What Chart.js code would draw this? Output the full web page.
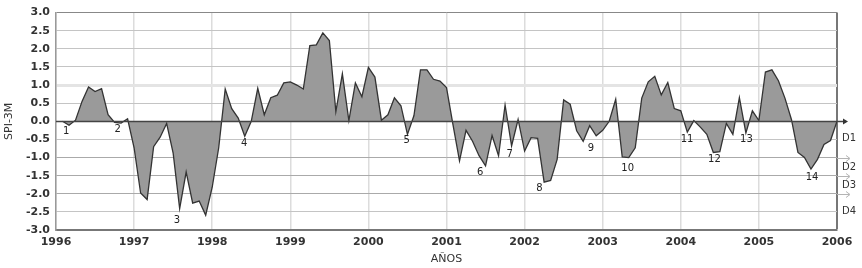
<!DOCTYPE html>
<html><head><meta charset="utf-8">
<script src="https://cdn.jsdelivr.net/npm/chart.js@4/dist/chart.umd.min.js"></script>
<style>html,body{margin:0;padding:0;background:#fff;}#wrap{width:862px;height:268px;}</style>
</head><body><div id="wrap"><canvas id="c" width="862" height="268"></canvas></div>
<script>
const startYear = 1996;
const spi3m = [
  0.00, -0.11, 0.03, 0.55, 0.95, 0.82, 0.90, 0.18, -0.03, -0.05, 0.07, -0.73,
  -1.98, -2.16, -0.70, -0.44, -0.06, -0.88, -2.41, -1.40, -2.26, -2.20, -2.59, -1.82,
  -0.73, 0.89, 0.35, 0.09, -0.41, 0.00, 0.91, 0.18, 0.65, 0.72, 1.06, 1.09,
  1.00, 0.89, 2.09, 2.11, 2.44, 2.23, 0.27, 1.31, 0.02, 1.06, 0.68, 1.49,
  1.22, 0.03, 0.18, 0.65, 0.43, -0.36, 0.16, 1.42, 1.42, 1.16, 1.11, 0.93,
  -0.10, -1.09, -0.25, -0.55, -0.95, -1.23, -0.39, -0.95, 0.45, -0.68, 0.05, -0.82,
  -0.45, -0.47, -1.68, -1.63, -1.05, 0.59, 0.47, -0.26, -0.55, -0.12, -0.40, -0.25,
  0.00, 0.61, -0.98, -1.00, -0.73, 0.64, 1.09, 1.24, 0.73, 1.07, 0.35, 0.29,
  -0.30, 0.02, -0.16, -0.36, -0.86, -0.84, -0.06, -0.36, 0.65, -0.32, 0.29, 0.02,
  1.36, 1.42, 1.12, 0.64, 0.05, -0.86, -1.00, -1.32, -1.05, -0.64, -0.53, 0.00
];
const eventLabels = ['1','2','3','4','5','6','7','8','9','10','11','12','13','14'];
const eventYears  = [1996.13,1996.79,1997.55,1998.41,2000.49,2001.43,2001.81,2002.19,2002.85,2003.32,2004.08,2004.43,2004.84,2005.68];
const eventValues = [-0.29,-0.21,-2.73,-0.61,-0.52,-1.42,-0.90,-1.86,-0.74,-1.29,-0.49,-1.04,-0.49,-1.54];
const droughtLines = [-1, -1.5, -2];
const droughtLabels = ['D1','D2','D3','D4'];
const droughtLabelValues = [-0.46, -1.28, -1.77, -2.5];

const points = spi3m.map((v, i) => ({ x: startYear + (i + 1) / 12, y: v }));
const FONT = 'DejaVu Sans';

const overlay = {
  id: 'overlay',
  afterDatasetsDraw(chart) {
    const { ctx, scales: { x, y }, chartArea } = chart;
    ctx.save();
    // drought threshold lines extending to the right with light arrows
    droughtLines.forEach(v => {
      const py = Math.round(y.getPixelForValue(v)) + 0.5;
      ctx.strokeStyle = '#b4b4b4';
      ctx.lineWidth = 1;
      ctx.beginPath();
      ctx.moveTo(chartArea.right, py);
      ctx.lineTo(chartArea.right + 12, py);
      ctx.stroke();
      ctx.beginPath();
      ctx.moveTo(chartArea.right + 9, py - 3);
      ctx.lineTo(chartArea.right + 13, py);
      ctx.lineTo(chartArea.right + 9, py + 3);
      ctx.stroke();
    });
    // zero line with arrow
    const p0 = Math.round(y.getPixelForValue(0)) + 0.5;
    ctx.strokeStyle = '#444';
    ctx.lineWidth = 1.5;
    ctx.beginPath();
    ctx.moveTo(chartArea.left, p0);
    ctx.lineTo(chartArea.right + 9, p0);
    ctx.stroke();
    ctx.fillStyle = '#333';
    ctx.beginPath();
    ctx.moveTo(chartArea.right + 6, p0 - 3);
    ctx.lineTo(chartArea.right + 11, p0);
    ctx.lineTo(chartArea.right + 6, p0 + 3);
    ctx.closePath();
    ctx.fill();
    // drought labels
    ctx.fillStyle = '#333';
    ctx.font = '10px ' + FONT;
    ctx.textAlign = 'left';
    ctx.textBaseline = 'middle';
    droughtLabels.forEach((t, i) => {
      ctx.fillText(t, chartArea.right + 5, y.getPixelForValue(droughtLabelValues[i]));
    });
    // event labels
    ctx.textAlign = 'center';
    ctx.fillStyle = '#222';
    eventLabels.forEach((t, i) => {
      ctx.fillText(t, x.getPixelForValue(eventYears[i]), y.getPixelForValue(eventValues[i]));
    });
    ctx.restore();
  }
};

new Chart(document.getElementById('c'), {
  type: 'line',
  data: {
    datasets: [{
      data: points,
      fill: 'origin',
      backgroundColor: '#9a9a9a',
      borderColor: '#333',
      borderWidth: 1.3,
      pointRadius: 0,
      tension: 0
    }]
  },
  options: {
    responsive: false,
    animation: false,
    devicePixelRatio: 1,
    layout: { padding: { top: 10, right: 25, left: 0, bottom: 0 } },
    plugins: { legend: { display: false }, tooltip: { enabled: false } },
    scales: {
      x: {
        type: 'linear', min: 1996, max: 2006,
        afterFit: s => { s.height = 38; },
        ticks: { stepSize: 1, callback: v => String(v), color: '#333', font: { family: FONT, size: 11, weight: 'bold' }, padding: 6, maxRotation: 0 },
        grid: {
          drawTicks: false,
          color: c => c.tick && c.tick.value === 2006 ? '#777' : '#dcdcdc',
          lineWidth: c => c.tick && c.tick.value === 2006 ? 2 : 1.5
        },
        border: { display: true, color: '#777', width: 2 },
        title: { display: true, text: 'AÑOS', color: '#333', font: { family: FONT, size: 11 }, padding: { top: 0, bottom: 2 } }
      },
      y: {
        min: -3, max: 3,
        afterFit: s => { s.width = 56; },
        ticks: { stepSize: 0.5, callback: v => v.toFixed(1), color: '#333', font: { family: FONT, size: 11, weight: 'bold' }, padding: 6 },
        grid: {
          drawTicks: false,
          color: c => {
            const v = c.tick ? c.tick.value : null;
            if (v === 0) return 'rgba(0,0,0,0)';
            if (v === 1) return '#e4e4e4';
            if (v === 3) return '#888';
            if (v === -1 || v === -1.5 || v === -2) return '#aaa';
            return '#c4c4c4';
          },
          lineWidth: c => (c.tick && c.tick.value === 1) ? 3 : 1
        },
        border: { display: true, color: '#999', width: 1.5 },
        title: { display: true, text: 'SPI-3M', color: '#333', font: { family: FONT, size: 11 }, padding: { top: 3, bottom: 0 } }
      }
    }
  },
  plugins: [overlay]
});
</script>
</body></html>
